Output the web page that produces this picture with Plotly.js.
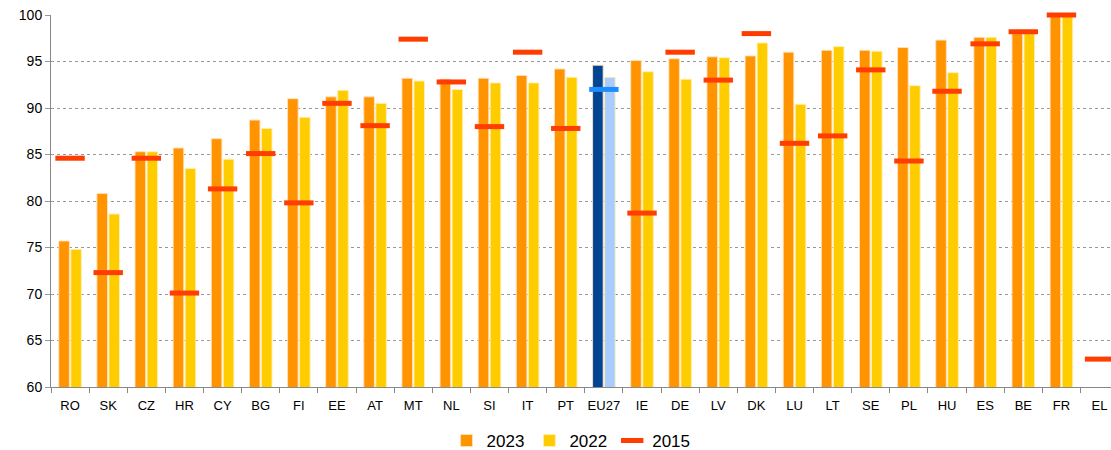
<!DOCTYPE html>
<html>
<head>
<meta charset="utf-8">
<script src="https://cdn.plot.ly/plotly-3.0.1.min.js"></script>
<style>html,body{margin:0;padding:0;background:#fff;}#chart{width:1111px;height:450px;}</style>
</head>
<body>
<div id="chart"></div>
<script>
var countries = ["RO","SK","CZ","HR","CY","BG","FI","EE","AT","MT","NL","SI","IT","PT","EU27","IE","DE","LV","DK","LU","LT","SE","PL","HU","ES","BE","FR","EL"];
var v2023 = [75.7,80.8,85.3,85.7,86.7,88.7,91.0,91.2,91.2,93.2,93.1,93.2,93.5,94.2,94.6,95.1,95.3,95.5,95.6,96.0,96.2,96.2,96.5,97.3,97.6,98.0,99.9,null];
var v2022 = [74.8,78.6,85.3,83.5,84.5,87.8,89.0,91.9,90.5,92.9,92.0,92.7,92.7,93.3,93.3,93.9,93.1,95.4,97.0,90.4,96.6,96.1,92.4,93.8,97.6,98.1,99.9,null];
var v2015 = [84.6,72.3,84.6,70.1,81.3,85.1,79.8,90.5,88.1,97.4,92.8,88.0,96.0,87.8,92.0,78.7,96.0,93.0,98.0,86.2,87.0,94.1,84.3,91.8,96.9,98.2,100.0,63.0];

var euIdx = countries.indexOf("EU27");
function colors(base, eu) { return countries.map(function(c, i){ return i === euIdx ? eu : base; }); }

var traces = [
  {type:"bar", name:"2023", x:countries, y:v2023,
   marker:{color:colors("#FF9400","#004494"), line:{color:"rgba(255,225,190,0.9)", width:1}},
   hoverinfo:"x+y"},
  {type:"bar", name:"2022", x:countries, y:v2022,
   marker:{color:colors("#FFCC00","#A8CCFF"), line:{color:"rgba(255,240,180,0.9)", width:1}},
   hoverinfo:"x+y"},
  {type:"scatter", mode:"markers", name:"2015", x:countries, y:v2015,
   marker:{symbol:"line-ew", size:21, color:colors("#FF3D00","#1E8CFF"),
           line:{width:5, color:colors("#FF3D00","#1E8CFF")}},
   cliponaxis:false, hoverinfo:"x+y"}
];

var layout = {
  width:1111, height:450,
  margin:{l:51, r:0, t:15, b:62.5},
  paper_bgcolor:"#fff", plot_bgcolor:"#fff",
  font:{family:"Liberation Sans, Arial, sans-serif", size:13, color:"#000"},
  barmode:"group", bargap:0.37, bargroupgap:0.12,
  showlegend:true,
  legend:{orientation:"h", xref:"container", yref:"container", x:0.514, xanchor:"center", y:0.02, yanchor:"middle",
          font:{size:17}, traceorder:"normal", itemwidth:30},
  xaxis:{type:"category", range:[-0.5, 27.3], showgrid:false, zeroline:false,
         showline:true, linecolor:"#888", linewidth:1, automargin:false, tickangle:0,
         ticks:"outside", tickson:"boundaries", ticklen:5, tickcolor:"#888",
         ticklabelstandoff:6, tickfont:{size:13}},
  yaxis:{range:[60,100], dtick:5, tick0:60, showgrid:true, gridcolor:"#999", griddash:"dot", gridwidth:1,
         zeroline:false, showline:true, linecolor:"#888", linewidth:1, automargin:false,
         ticks:"outside", ticklen:5, tickcolor:"#999", tickfont:{size:14}}
};

Plotly.newPlot("chart", traces, layout, {displayModeBar:false, staticPlot:true});
</script>
</body>
</html>
